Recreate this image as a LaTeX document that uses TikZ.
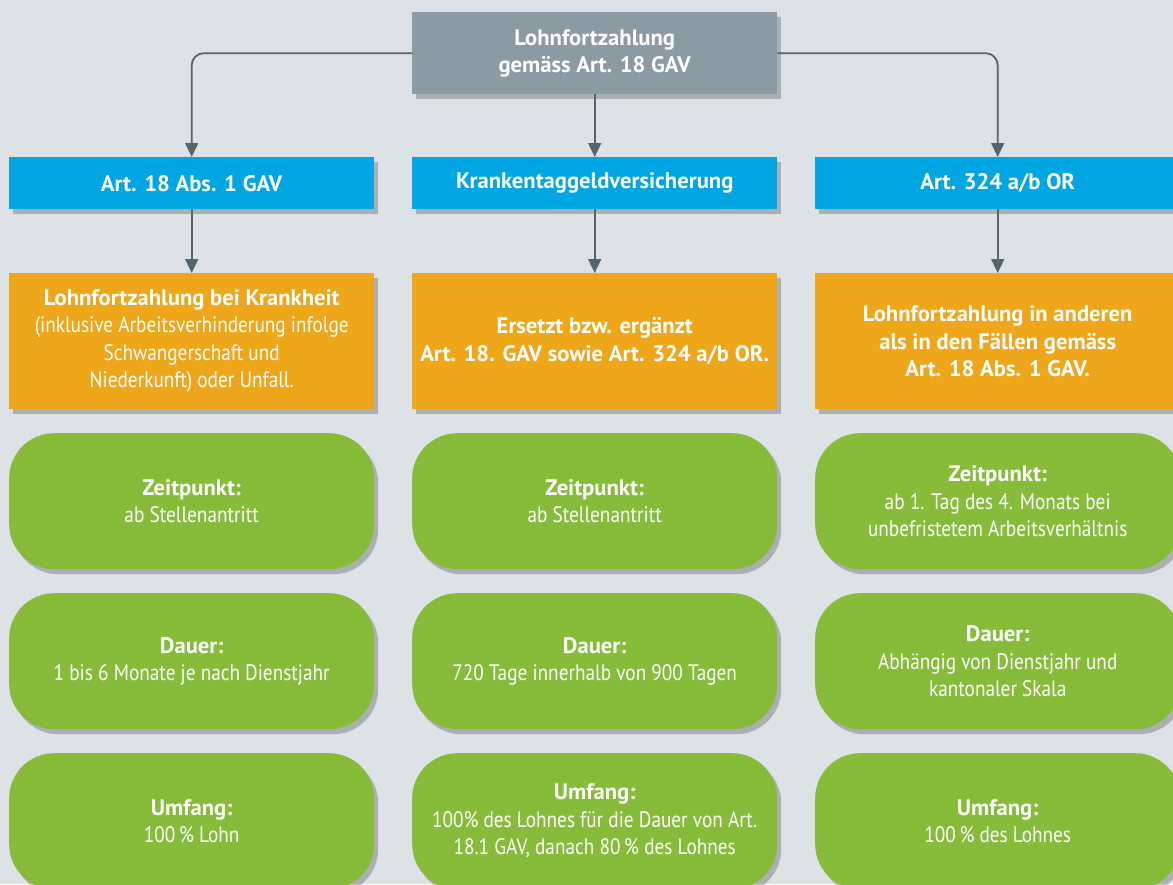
\documentclass[tikz,border=0pt]{standalone}
\usepackage{fontspec}
\setmainfont{PT Sans}[FakeStretch=0.86,BoldFeatures={FakeStretch=1.01}]
\usetikzlibrary{arrows.meta,shadows}
\definecolor{bgc}{HTML}{DDE2E6}
\definecolor{topc}{HTML}{8C9BA3}
\definecolor{bluec}{HTML}{00A6E2}
\definecolor{orangec}{HTML}{EEA61A}
\definecolor{greenc}{HTML}{86BC3A}
\definecolor{arrc}{HTML}{55656E}
\begin{document}
\begin{tikzpicture}[x=1pt,y=-1pt,
  font=\fontsize{22.4}{27.5}\selectfont,
  shad/.style={drop shadow={shadow xshift=4pt,shadow yshift=-5pt,fill=black,opacity=0.22}},
  basebox/.style={shad,anchor=north west,text=white,align=center,inner sep=0pt,minimum width=365pt},
  topbox/.style={basebox,fill=topc,minimum height=82pt},
  bluebox/.style={basebox,fill=bluec,minimum height=52pt},
  orangebox/.style={basebox,fill=orangec,minimum height=136pt},
  greenbox/.style={basebox,fill=greenc,minimum height=136pt,rounded corners=45pt},
  arr/.style={draw=arrc,line width=1.8pt,-{Triangle[length=14pt,width=13pt]},rounded corners=12pt}
]
\useasboundingbox (0,0) rectangle (1173,884);
\fill[bgc] (0,0) rectangle (1173,884);
\clip (0,0) rectangle (1173,884);

\node[topbox] (top) at (412,12) {\textbf{Lohnfortzahlung}\\\textbf{gemäss Art. 18 GAV}};

\node[bluebox] (b1) at (9,157) {\textbf{Art. 18 Abs. 1 GAV}};
\node[bluebox] (b2) at (412,157) {\textbf{Krankentaggeldversicherung}};
\node[bluebox] (b3) at (815,157) {\textbf{Art. 324 a/b OR}};

\node[orangebox] (o1) at (9,273) {\textbf{Lohnfortzahlung bei Krankheit}\\(inklusive Arbeitsverhinderung infolge\\Schwangerschaft und\\Niederkunft) oder Unfall.};
\node[orangebox] (o2) at (412,273) {\textbf{Ersetzt bzw. ergänzt}\\\textbf{Art. 18. GAV sowie Art. 324 a/b OR.}};
\node[orangebox] (o3) at (815,273) {\textbf{Lohnfortzahlung in anderen}\\\textbf{als in den Fällen gemäss}\\\textbf{Art. 18 Abs. 1 GAV.}};

\node[greenbox] (g11) at (9,433) {\textbf{Zeitpunkt:}\\ab Stellenantritt};
\node[greenbox] (g12) at (412,433) {\textbf{Zeitpunkt:}\\ab Stellenantritt};
\node[greenbox] (g13) at (815,433) {\textbf{Zeitpunkt:}\\ab 1. Tag des 4. Monats bei\\unbefristetem Arbeitsverhältnis};

\node[greenbox] (g21) at (9,593) {\textbf{Dauer:}\\1 bis 6 Monate je nach Dienstjahr};
\node[greenbox] (g22) at (412,593) {\textbf{Dauer:}\\720 Tage innerhalb von 900 Tagen};
\node[greenbox] (g23) at (815,593) {\textbf{Dauer:}\\Abhängig von Dienstjahr und\\kantonaler Skala};

\node[greenbox] (g31) at (9,753) {\textbf{Umfang:}\\100\,\% Lohn};
\node[greenbox] (g32) at (412,753) {\textbf{Umfang:}\\100\% des Lohnes für die Dauer von Art.\\18.1 GAV, danach 80\,\% des Lohnes};
\node[greenbox] (g33) at (815,753) {\textbf{Umfang:}\\100\,\% des Lohnes};

\draw[arr] (top.west) -| (b1.north);
\draw[arr] (top.east) -| (b3.north);
\draw[arr] (top.south) -- (b2.north);
\draw[arr] (b1.south) -- (o1.north);
\draw[arr] (b2.south) -- (o2.north);
\draw[arr] (b3.south) -- (o3.north);
\end{tikzpicture}
\end{document}
